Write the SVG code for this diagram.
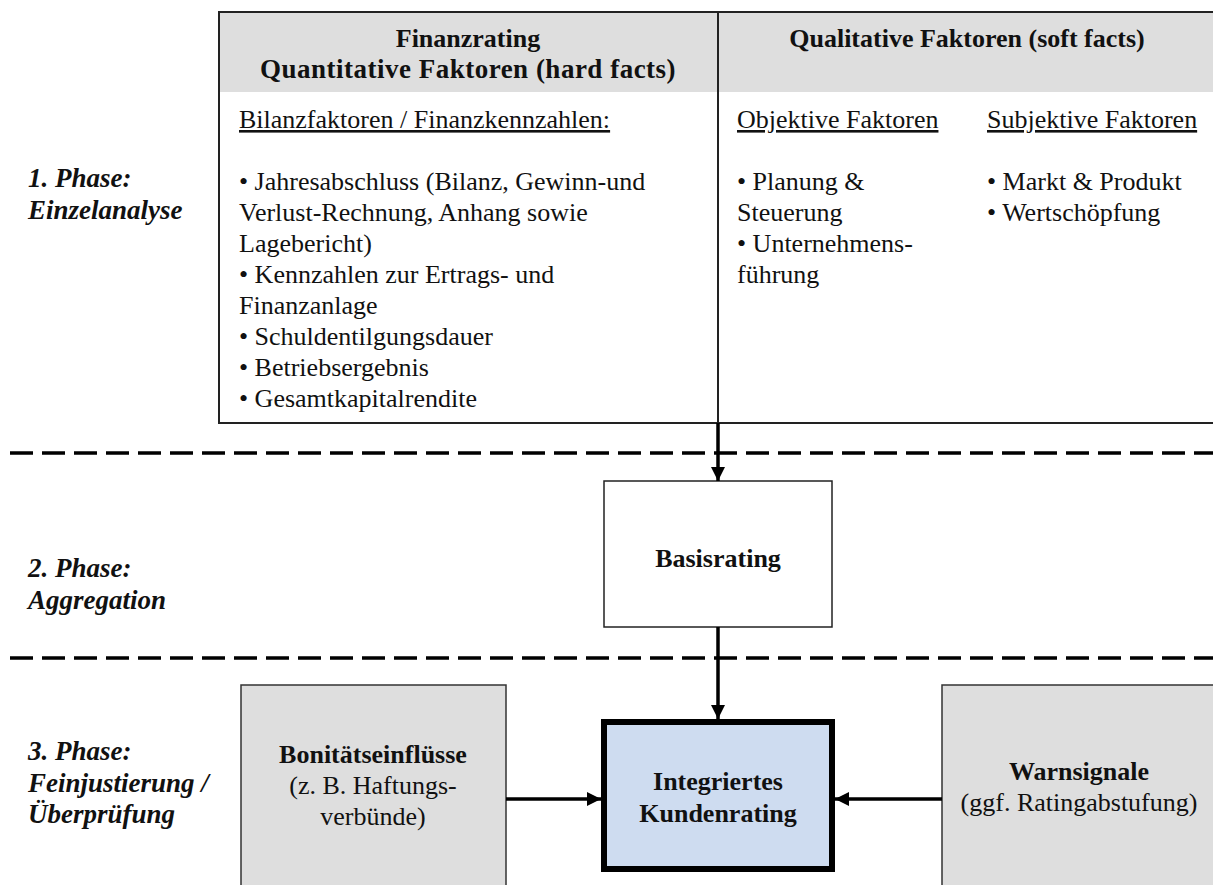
<svg xmlns="http://www.w3.org/2000/svg" width="1213" height="885" viewBox="0 0 1213 885">
  <defs>
    <style>
      .t { font-family: "Liberation Serif", "Times New Roman", serif; font-size: 26px; fill: #111; }
      .b { font-weight: bold; }
      .ph { font-family: "Liberation Serif", "Times New Roman", serif; font-size: 27px; font-weight: bold; font-style: italic; fill: #111; }
      .mid { text-anchor: middle; }
      .u { text-decoration: underline; }
      .dash { stroke: #000; stroke-width: 3.5; stroke-dasharray: 23 9; fill: none; }
      .dashsh { stroke: #c8c8c8; stroke-width: 4; stroke-dasharray: 23 9; fill: none; filter: url(#blur); }
      .conn { stroke: #000; stroke-width: 3.5; fill: none; marker-end: url(#ah); }
    </style>
    <filter id="blur" x="-5%" y="-200%" width="110%" height="500%">
      <feGaussianBlur stdDeviation="2"/>
    </filter>
    <marker id="ah" viewBox="0 0 10 10" refX="10" refY="5" markerWidth="14" markerHeight="14" markerUnits="userSpaceOnUse" orient="auto">
      <path d="M0,0 L10,5 L0,10 z" fill="#000"/>
    </marker>
  </defs>
  <rect width="1213" height="885" fill="#fff"/>

  <g id="phase-labels">
    <text class="ph" x="28" y="187">1. Phase:</text>
    <text class="ph" x="28" y="219">Einzelanalyse</text>
    <text class="ph" x="28" y="577">2. Phase:</text>
    <text class="ph" x="28" y="609">Aggregation</text>
    <text class="ph" x="28" y="760">3. Phase:</text>
    <text class="ph" x="28" y="792">Feinjustierung /</text>
    <text class="ph" x="28" y="823">Überprüfung</text>
  </g>

  <g id="separators">
    <line class="dashsh" x1="10" y1="459" x2="1213" y2="459"/>
    <line class="dash" x1="10" y1="453" x2="1213" y2="453"/>
    <line class="dashsh" x1="10" y1="664" x2="1213" y2="664"/>
    <line class="dash" x1="10" y1="658" x2="1213" y2="658"/>
  </g>

  <g id="table">
    <rect x="219" y="12" width="1010" height="80" fill="#dedede"/>
    <rect x="219" y="12" width="1010" height="411" fill="none" stroke="#222" stroke-width="2"/>
    <line x1="718" y1="12" x2="718" y2="423" stroke="#222" stroke-width="2"/>
  </g>

  <g id="hard-facts">
    <text class="t b mid" x="468" y="47">Finanzrating</text>
    <text class="t b mid" x="468" y="78" style="font-size:27px;letter-spacing:0.5px">Quantitative Faktoren (hard facts)</text>
    <text class="t u" x="239" y="128">Bilanzfaktoren / Finanzkennzahlen:</text>
    <text class="t" x="239" y="190">• Jahresabschluss (Bilanz, Gewinn-und</text>
    <text class="t" x="239" y="221">Verlust-Rechnung, Anhang sowie</text>
    <text class="t" x="239" y="252">Lagebericht)</text>
    <text class="t" x="239" y="283">• Kennzahlen zur Ertrags- und</text>
    <text class="t" x="239" y="314">Finanzanlage</text>
    <text class="t" x="239" y="345">• Schuldentilgungsdauer</text>
    <text class="t" x="239" y="376">• Betriebsergebnis</text>
    <text class="t" x="239" y="407">• Gesamtkapitalrendite</text>
  </g>

  <g id="soft-facts">
    <text class="t b mid" x="967" y="47">Qualitative Faktoren (soft facts)</text>
    <text class="t u" x="737" y="128">Objektive Faktoren</text>
    <text class="t" x="737" y="190">• Planung &amp;</text>
    <text class="t" x="737" y="221">Steuerung</text>
    <text class="t" x="737" y="252">• Unternehmens-</text>
    <text class="t" x="737" y="283">führung</text>
    <text class="t u" x="987" y="128">Subjektive Faktoren</text>
    <text class="t" x="987" y="190">• Markt &amp; Produkt</text>
    <text class="t" x="987" y="221">• Wertschöpfung</text>
  </g>

  <g id="basisrating">
    <rect x="604" y="481" width="228" height="146" fill="#fff" stroke="#222" stroke-width="1.5"/>
    <text class="t b mid" x="718" y="567">Basisrating</text>
  </g>

  <g id="bonitaet">
    <rect x="241" y="685" width="265" height="215" fill="#dedede" stroke="#333" stroke-width="1.5"/>
    <text class="t b mid" x="373" y="763">Bonitätseinflüsse</text>
    <text class="t mid" x="373" y="794">(z. B. Haftungs-</text>
    <text class="t mid" x="373" y="825">verbünde)</text>
  </g>

  <g id="kundenrating">
    <rect x="604" y="722" width="228" height="147" fill="#cedcf0" stroke="#000" stroke-width="6"/>
    <text class="t b mid" x="718" y="790">Integriertes</text>
    <text class="t b mid" x="718" y="822">Kundenrating</text>
  </g>

  <g id="warnsignale">
    <rect x="942" y="685" width="300" height="215" fill="#dedede" stroke="#333" stroke-width="1.5"/>
    <text class="t b mid" x="1079" y="780">Warnsignale</text>
    <text class="t mid" x="1079" y="811">(ggf. Ratingabstufung)</text>
  </g>

  <g id="connectors">
    <line class="conn" x1="718" y1="423" x2="718" y2="481"/>
    <line class="conn" x1="718" y1="627" x2="718" y2="719"/>
    <line class="conn" x1="506" y1="799" x2="601" y2="799"/>
    <line class="conn" x1="942" y1="799" x2="835" y2="799"/>
  </g>
</svg>
